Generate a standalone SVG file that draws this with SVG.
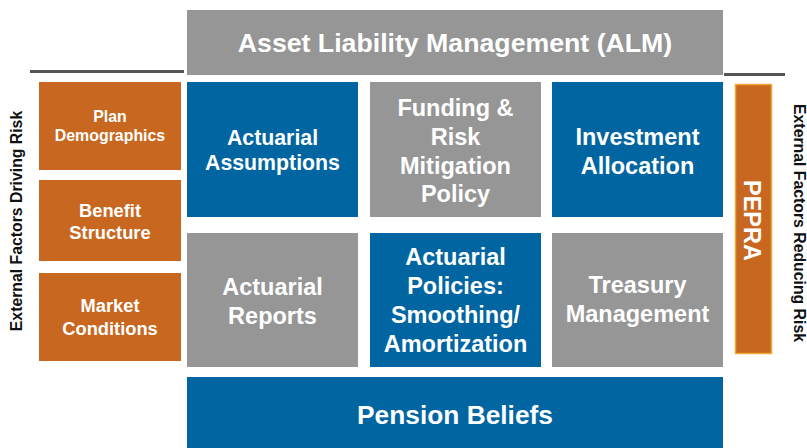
<svg xmlns="http://www.w3.org/2000/svg" width="807" height="448" viewBox="0 0 807 448">
<style>
text{font-family:"Liberation Sans",Arial,sans-serif;font-weight:bold;text-anchor:middle}
.w{fill:#ffffff}
.k{fill:#111111;font-size:15.8px}
.blue{fill:#0065A0}
.gray{fill:#959695}
.orange{fill:#C8671F}
.line{fill:#555555}
.m{font-size:23.5px}
.o{font-size:18.3px}
</style>
<rect width="807" height="448" fill="#ffffff"/>
<g id="connectors">
<rect class="line" x="30" y="70" width="154" height="3"/>
<rect class="line" x="724" y="73" width="61" height="3"/>
</g>
<g id="alm"><rect class="gray" x="187" y="10" width="536" height="65"/><text class="w" style="font-size:26.7px" x="455" y="52">Asset Liability Management (ALM)</text></g>
<g id="plan-demographics"><rect class="orange" x="39" y="82" width="142" height="88"/><text class="w" style="font-size:15.9px" x="110" y="122">Plan</text><text class="w" style="font-size:15.9px" x="110" y="141">Demographics</text></g>
<g id="benefit-structure"><rect class="orange" x="39" y="180" width="142" height="81"/><text class="w o" x="110" y="216.5">Benefit</text><text class="w o" x="110" y="239">Structure</text></g>
<g id="market-conditions"><rect class="orange" x="39" y="273" width="142" height="88"/><text class="w o" x="110" y="312">Market</text><text class="w o" x="110" y="335">Conditions</text></g>
<g id="actuarial-assumptions"><rect class="blue" x="187" y="82" width="171" height="135"/><text class="w" style="font-size:21.3px" x="272.5" y="144.5">Actuarial</text><text class="w" style="font-size:21.3px" x="272.5" y="170">Assumptions</text></g>
<g id="funding-policy"><rect class="gray" x="370" y="82" width="171" height="135"/><text class="w m" x="455.5" y="115.5">Funding &amp;</text><text class="w m" x="455.5" y="144.5">Risk</text><text class="w m" x="455.5" y="173.5">Mitigation</text><text class="w m" x="455.5" y="202">Policy</text></g>
<g id="investment-allocation"><rect class="blue" x="552" y="82" width="171" height="135"/><text class="w m" x="637.5" y="144.5">Investment</text><text class="w m" x="637.5" y="173.5">Allocation</text></g>
<g id="actuarial-reports"><rect class="gray" x="187" y="233" width="171" height="134"/><text class="w m" x="272.5" y="295">Actuarial</text><text class="w m" x="272.5" y="324">Reports</text></g>
<g id="actuarial-policies"><rect class="blue" x="370" y="233" width="171" height="134"/><text class="w m" x="455.5" y="265">Actuarial</text><text class="w m" x="455.5" y="294">Policies:</text><text class="w m" x="455.5" y="323">Smoothing/</text><text class="w m" x="455.5" y="352">Amortization</text></g>
<g id="treasury-management"><rect class="gray" x="552" y="233" width="171" height="134"/><text class="w m" x="637.5" y="293">Treasury</text><text class="w m" x="637.5" y="322">Management</text></g>
<g id="pension-beliefs"><rect class="blue" x="187" y="377" width="536" height="71"/><text class="w" style="font-size:26.3px" x="455" y="424">Pension Beliefs</text></g>
<g id="pepra"><rect class="orange" x="735.5" y="84.5" width="36" height="269" stroke="#EFA834" stroke-width="1.5"/><text class="w m" transform="translate(743.5,220.5) rotate(90)">PEPRA</text></g>
<g id="label-left"><text class="k" transform="translate(21.5,221) rotate(-90)">External Factors Driving Risk</text></g>
<g id="label-right"><text class="k" transform="translate(793.5,223) rotate(90)">External Factors Reducing Risk</text></g>
</svg>
